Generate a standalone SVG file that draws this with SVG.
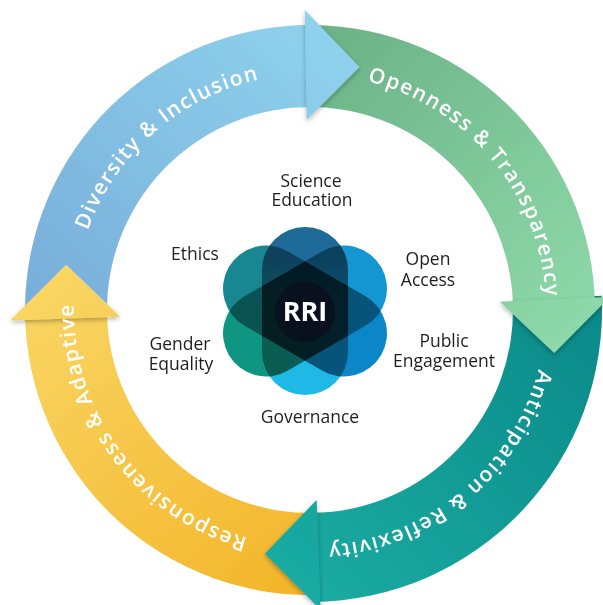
<svg xmlns="http://www.w3.org/2000/svg" xmlns:xlink="http://www.w3.org/1999/xlink" width="603" height="605" viewBox="0 0 603 605">
<style>
.arc{font-family:"Open Sans","Noto Sans","Liberation Sans",sans-serif;font-size:21px;font-weight:600;fill:#ffffff;letter-spacing:1.5px;text-anchor:middle}
.lbl{font-family:"Open Sans","Noto Sans","Liberation Sans",sans-serif;font-size:17.5px;fill:#1e1e1e;text-anchor:middle}
.rri{font-family:"Open Sans","Noto Sans","Liberation Sans",sans-serif;font-size:27px;font-weight:700;fill:#ffffff;text-anchor:middle}
.head{filter:url(#sh)}
.petal{mix-blend-mode:darken}
.shade{fill:#000000;fill-opacity:0.38}
</style>
<defs>
<filter id="sh" x="-30%" y="-30%" width="160%" height="160%">
<feDropShadow dx="0" dy="2" stdDeviation="2.5" flood-color="#000" flood-opacity="0.3"/>
</filter>
<linearGradient id="gBlue" gradientUnits="userSpaceOnUse" x1="60" y1="330" x2="340" y2="40">
<stop offset="0" stop-color="#78AEDA"/><stop offset="1" stop-color="#8FD2ED"/>
</linearGradient>
<linearGradient id="gGreen" gradientUnits="userSpaceOnUse" x1="300" y1="30" x2="590" y2="320">
<stop offset="0" stop-color="#6AB186"/><stop offset="1" stop-color="#8ED9A9"/>
</linearGradient>
<linearGradient id="gTeal" gradientUnits="userSpaceOnUse" x1="590" y1="290" x2="290" y2="590">
<stop offset="0" stop-color="#0A8988"/><stop offset="1" stop-color="#1AACA3"/>
</linearGradient>
<linearGradient id="gYellow" gradientUnits="userSpaceOnUse" x1="300" y1="590" x2="40" y2="290">
<stop offset="0" stop-color="#F3B529"/><stop offset="1" stop-color="#F9D563"/>
</linearGradient>
<linearGradient id="fV" x1="0" y1="0" x2="1" y2="0">
<stop offset="0.2" stop-color="#1e6a98"/><stop offset="0.8" stop-color="#1eb9e6"/>
</linearGradient>
<linearGradient id="fA" x1="0" y1="0" x2="1" y2="0">
<stop offset="0.2" stop-color="#198791"/><stop offset="0.8" stop-color="#0b86c8"/>
</linearGradient>
<linearGradient id="fB" x1="0" y1="0" x2="1" y2="0">
<stop offset="0.2" stop-color="#0f9682"/><stop offset="0.8" stop-color="#1496d2"/>
</linearGradient>
<clipPath id="cV"><rect transform="translate(305 311) rotate(90)" x="-84" y="-43" width="168" height="86" rx="43"/></clipPath>
<clipPath id="cA"><rect transform="translate(305 311) rotate(30)" x="-88" y="-43" width="176" height="86" rx="43"/></clipPath>
<path id="ring" d="M 546 310 A 236 236 0 1 1 74 310 A 236 236 0 1 1 546 310"/>
</defs>
<rect x="0" y="0" width="603" height="605" fill="#ffffff"/>

<g id="arrow-responsiveness">
<path fill="url(#gYellow)" d="M 327.40 594.47 A 285 285 0 0 1 25.01 312.49 L 107.01 311.77 A 203 203 0 0 0 322.39 512.62 Z"/>
<polygon class="head" fill="url(#gYellow)" points="10.18,320.47 66.15,264.81 120.12,316.63"/>
<text class="arc"><textPath href="#ring" xlink:href="#ring" startOffset="39.86%">Responsiveness &amp; Adaptive</textPath></text>
</g>

<g id="arrow-anticipation">
<path fill="url(#gTeal)" d="M 601.65 295.74 A 292 292 0 0 1 312.55 601.99 L 311.77 512.99 A 203 203 0 0 0 512.76 300.08 Z"/>
<polygon class="head" fill="url(#gTeal)" points="320.47,609.82 264.81,553.85 316.63,499.88"/>
<text class="arc"><textPath href="#ring" xlink:href="#ring" startOffset="13.94%">Anticipation &amp; Reflexivity</textPath></text>
</g>

<g id="arrow-openness">
<path fill="url(#gGreen)" d="M 297.57 25.27 A 285 285 0 0 1 594.96 305.03 L 512.97 306.46 A 203 203 0 0 0 301.15 107.19 Z"/>
<polygon class="head" fill="url(#gGreen)" points="609.71,296.91 554.23,353.07 499.82,301.71"/>
<text class="arc"><textPath href="#ring" xlink:href="#ring" startOffset="89.03%">Openness &amp; Transparency</textPath></text>
</g>

<g id="arrow-diversity">
<path fill="url(#gBlue)" d="M 25.03 305.71 A 285 285 0 0 1 312.49 25.01 L 311.77 107.01 A 203 203 0 0 0 107.09 304.12 L 66.15 264.81 Z"/>
<polygon class="head" fill="url(#gBlue)" points="304.76,10.05 359.44,66.98 306.68,120.03"/>
<text class="arc"><textPath href="#ring" xlink:href="#ring" startOffset="63.53%">Diversity &amp; Inclusion</textPath></text>
</g>

<g id="rri-flower" style="isolation:isolate">
<rect class="petal" transform="translate(305 311) rotate(90)" x="-84" y="-43" width="168" height="86" rx="43" fill="url(#fV)"/>
<rect class="petal" transform="translate(305 311) rotate(30)" x="-88" y="-43" width="176" height="86" rx="43" fill="url(#fA)"/>
<rect class="petal" transform="translate(305 311) rotate(-30)" x="-88" y="-43" width="176" height="86" rx="43" fill="url(#fB)"/>
<g clip-path="url(#cV)"><rect class="shade" transform="translate(305 311) rotate(30)" x="-88" y="-43" width="176" height="86" rx="43"/></g>
<g clip-path="url(#cV)"><rect class="shade" transform="translate(305 311) rotate(-30)" x="-88" y="-43" width="176" height="86" rx="43"/></g>
<g clip-path="url(#cA)"><rect class="shade" transform="translate(305 311) rotate(-30)" x="-88" y="-43" width="176" height="86" rx="43"/></g>
<circle cx="305" cy="312" r="30" fill="#08111d"/>
<text class="rri" x="305" y="321">RRI</text>
</g>

<g id="label-science-education">
<text class="lbl"><tspan x="311" y="187">Science</tspan><tspan x="312" y="206">Education</tspan></text>
</g>
<g id="label-ethics"><text class="lbl" x="195" y="260">Ethics</text></g>
<g id="label-open-access">
<text class="lbl"><tspan x="428" y="265">Open</tspan><tspan x="428" y="286">Access</tspan></text>
</g>
<g id="label-public-engagement">
<text class="lbl"><tspan x="444" y="347">Public</tspan><tspan x="444" y="367">Engagement</tspan></text>
</g>
<g id="label-gender-equality">
<text class="lbl"><tspan x="180" y="350">Gender</tspan><tspan x="181" y="370">Equality</tspan></text>
</g>
<g id="label-governance"><text class="lbl" x="310" y="423">Governance</text></g>
</svg>
